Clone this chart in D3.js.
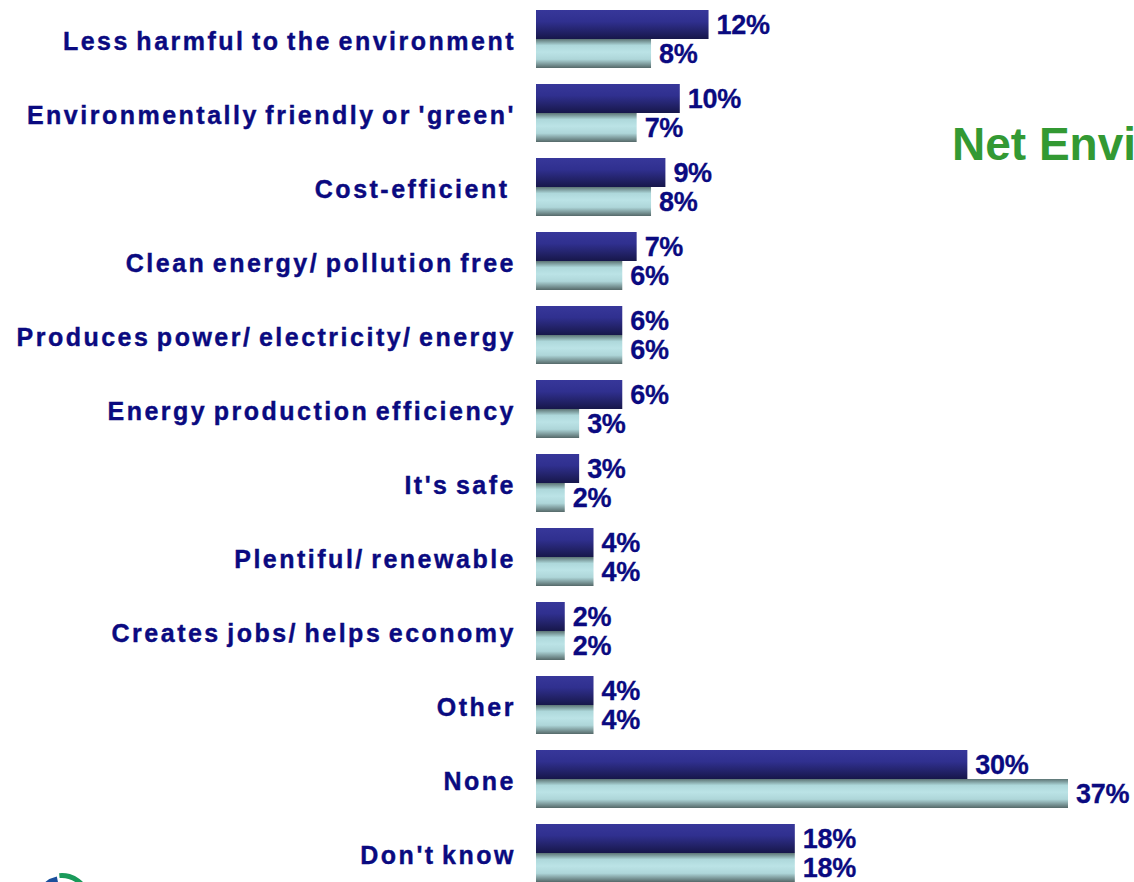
<!DOCTYPE html>
<html>
<head>
<meta charset="utf-8">
<script src="https://cdn.jsdelivr.net/npm/d3@7"></script>
<style>
  body { margin: 0; background: #fff; overflow: hidden; }
  svg { display: block; font-family: "Liberation Sans", Arial, sans-serif; }
  .cat { font-size: 25px; font-weight: bold; fill: #0a0a80; stroke: #0a0a80; stroke-width: 0.4px;
         letter-spacing: 2.5px; word-spacing: -3px; white-space: pre; }
  .val { font-size: 27px; font-weight: bold; fill: #0a0a80; stroke: #0a0a80; stroke-width: 0.3px; letter-spacing: -0.3px; }
  .title { font-size: 46px; font-weight: bold; fill: #339933; }
</style>
</head>
<body>
<svg width="1134" height="882"></svg>
<script>
// chart data
const categories = [
  "Less harmful to the environment",
  "Environmentally friendly or 'green'",
  "Cost-efficient ",
  "Clean energy/ pollution free",
  "Produces power/ electricity/ energy",
  "Energy production efficiency",
  "It's safe",
  "Plentiful/ renewable",
  "Creates jobs/ helps economy",
  "Other",
  "None",
  "Don't know"
];

const seriesA = [12, 10, 9, 7, 6, 6, 3, 4, 2, 4, 30, 18];
const seriesB = [8, 7, 8, 6, 6, 3, 2, 4, 2, 4, 37, 18];

const seriesKeys = ["a", "b"];

const svg = d3.select("svg");

// gradients
const defs = svg.append("defs");

const gradA = defs.append("linearGradient")
  .attr("id", "gradA")
  .attr("x1", 0).attr("y1", 0).attr("x2", 0).attr("y2", 1);
[["0%", "#37379a"], ["40%", "#30308f"], ["100%", "#17174a"]].forEach(s => {
  gradA.append("stop").attr("offset", s[0]).attr("stop-color", s[1]);
});

const gradB = defs.append("linearGradient")
  .attr("id", "gradB")
  .attr("x1", 0).attr("y1", 0).attr("x2", 0).attr("y2", 1);
[["0%", "#5c7474"], ["22%", "#aed8db"], ["45%", "#bbe3e6"], ["70%", "#aed6d9"], ["100%", "#556969"]].forEach(s => {
  gradB.append("stop").attr("offset", s[0]).attr("stop-color", s[1]);
});

// scales
const x = d3.scaleLinear()
  .domain([0, 37])
  .range([536, 1068]);

const y = d3.scaleBand()
  .domain(categories)
  .range([10, 882])
  .paddingInner(16 / 74)
  .paddingOuter(0);

const ySub = d3.scaleBand()
  .domain(seriesKeys)
  .range([0, y.bandwidth()]);

const rows = categories.map((c, i) => ({ cat: c, a: seriesA[i], b: seriesB[i] }));

// title (runs off the right edge, as on the source slide)
svg.append("text")
  .attr("class", "title")
  .attr("x", 952)
  .attr("y", 160)
  .text("Net Environmental Benefits");

// rows
const row = svg.selectAll(".row")
  .data(rows)
  .enter()
  .append("g")
  .attr("class", "row")
  .attr("transform", d => "translate(0," + y(d.cat) + ")");

row.append("text")
  .attr("class", "cat")
  .attr("x", 516)
  .attr("y", y.bandwidth() / 2 + 11)
  .attr("text-anchor", "end")
  .text(d => d.cat);

seriesKeys.forEach(k => {
  row.append("rect")
    .attr("x", x(0))
    .attr("y", ySub(k))
    .attr("width", d => x(d[k]) - x(0))
    .attr("height", ySub.bandwidth())
    .attr("fill", k === "a" ? "url(#gradA)" : "url(#gradB)");

  row.append("text")
    .attr("class", "val")
    .attr("x", d => x(d[k]) + 8)
    .attr("y", ySub(k) + 23.5)
    .text(d => d[k] + "%");
});

// partial logo at bottom left
const logo = svg.append("g")
  .attr("transform", "translate(62, 902)");

logo.append("path")
  .attr("d", d3.arc()({ innerRadius: 24, outerRadius: 29, startAngle: -0.1, endAngle: 1.4 }))
  .attr("fill", "#1a9a5a");

logo.append("path")
  .attr("d", d3.arc()({ innerRadius: 16, outerRadius: 26, startAngle: -1.5, endAngle: -0.2 }))
  .attr("fill", "#1b4f9c");
</script>
</body>
</html>
